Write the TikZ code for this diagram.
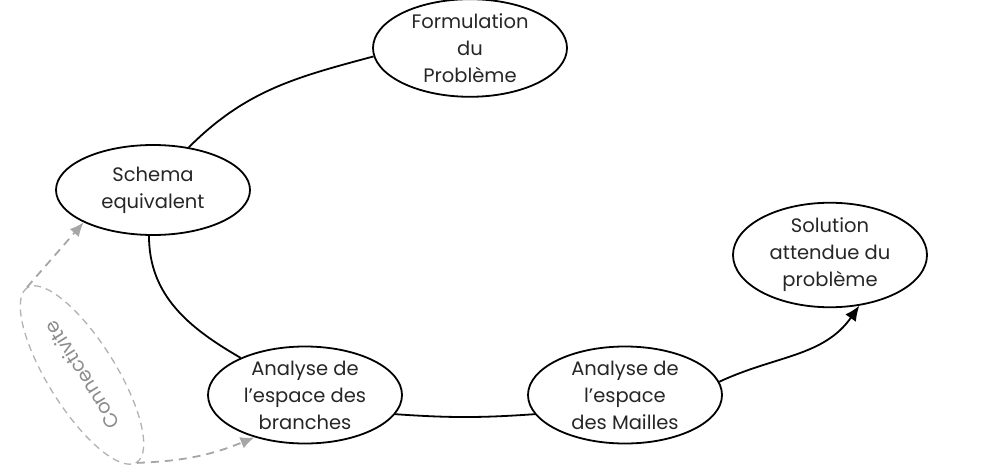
\documentclass[tikz,border=0pt]{standalone}
\usepackage{fontspec}
\setmainfont{Poppins}
\usetikzlibrary{shapes.geometric, arrows.meta}

\begin{document}
\begin{tikzpicture}[
		x=1pt, y=-1pt,
		font=\fontsize{19.5}{27}\selectfont,
		% Style for the steps of the method
		stepnode/.style={
			ellipse, draw, line width=1.8pt,
			minimum width=194pt, minimum height=90pt,
			inner sep=0pt, align=center, text=black!85
		},
		% Style for the links between steps
		link/.style={line width=1.8pt},
		% Style for the gray connectivity part
		grayloop/.style={ellipse, draw=black!30, dash pattern=on 7pt off 5pt, line width=1.3pt,
			minimum width=206pt, minimum height=68pt, inner sep=0pt, text=black!45},
		graylink/.style={draw=black!35, dash pattern=on 8pt off 6pt, line width=1.8pt,
			-{Latex[length=14pt, width=12pt]}}
		]
		
		\useasboundingbox (0,0) rectangle (987,470);
		
		% --- 1. The steps ---
		\node[stepnode] (form) at (470, 48) {Formulation\\du\\Problème};
		\node[stepnode] (schema) at (153, 190) {Schema\\equivalent};
		\node[stepnode] (branches) at (305, 395) {Analyse de\\l’espace des\\branches};
		\node[stepnode] (mailles) at (625, 395) {Analyse de\\l’espace\\des Mailles};
		\node[stepnode] (sol) at (830, 255) {Solution\\attendue du\\problème};
		
		% --- 2. Links between the steps ---
		\draw[link] (form.185) to[out=195, in=45] (schema.50);
		\draw[link] (schema.265) to[out=270, in=150] (branches.150);
		\draw[link] (branches.-12) to[bend right=4] (mailles.192);
		\draw[link, -{Latex[length=15pt, width=13pt]}] (mailles.8) to[out=25, in=235] (sol.-60);
		
		% --- 3. Connectivity (gray) ---
		\node[grayloop, rotate=122] (conn) at (82, 375) {Connectivite};
		\draw[graylink] (conn.east) -- (schema.205);
		\draw[graylink] (conn.west) to[bend right=10] (branches.220);
		
	\end{tikzpicture}
\end{document}
